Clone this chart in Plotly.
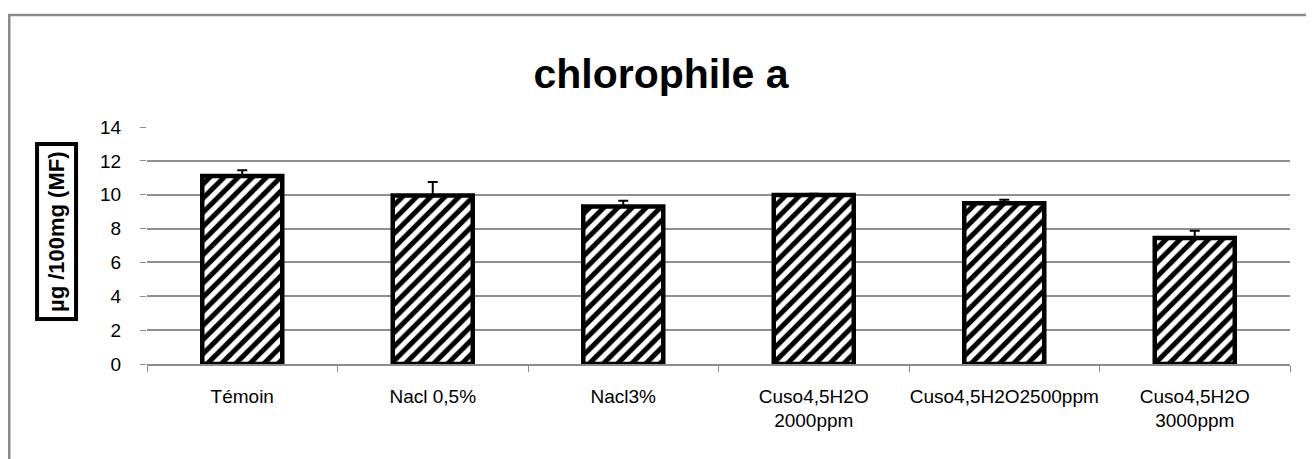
import plotly.graph_objects as go

# data
categories = ["Témoin", "Nacl 0,5%", "Nacl3%", "Cuso4,5H2O<br>2000ppm",
              "Cuso4,5H2O2500ppm", "Cuso4,5H2O<br>3000ppm"]
values = [11.1, 9.95, 9.3, 9.98, 9.5, 7.45]
errors = [0.35, 0.8, 0.35, 0.08, 0.2, 0.42]
no_errors = [0, 0, 0, 0, 0, 0]
y_ticks = [0, 2, 4, 6, 8, 10, 12, 14]

fig = go.Figure()

fig.add_trace(go.Bar(
    x=categories,
    y=values,
    width=0.42,
    marker=dict(
        color="white",
        line=dict(color="black", width=4.5),
        pattern=dict(shape="/", fgcolor="black", bgcolor="white",
                     fgopacity=1, size=10, solidity=0.5),
    ),
    # only the plus side is drawn in the original
    error_y=dict(type="data", symmetric=False, array=errors,
                 arrayminus=no_errors, visible=True,
                 color="black", thickness=2, width=5),
))

# the page has an 8px body margin, so the figure is trimmed to fit the window
fig.update_layout(
    width=1306, height=451,
    margin=dict(l=139, r=24, t=119, b=95),
    paper_bgcolor="white", plot_bgcolor="white",
    font=dict(family="Liberation Sans, Arial, sans-serif", color="black"),
    showlegend=False,
    title=dict(text="<b>chlorophile a</b>", x=0.5, xanchor="center",
               y=0.855, yanchor="middle",
               font=dict(size=41, color="black")),
)

fig.update_xaxes(
    tickson="boundaries", ticks="outside", ticklen=6, tickcolor="#8c8c8c",
    showline=True, linecolor="#8c8c8c", linewidth=1.5,
    tickfont=dict(size=19), tickangle=0, ticklabelstandoff=14,
)
fig.update_yaxes(
    range=[0, 14], tickvals=y_ticks, ticks="outside", ticklen=6,
    tickcolor="#8c8c8c", showline=False,
    showgrid=True, gridcolor="#8f8f8f", gridwidth=1.5,
    tickfont=dict(size=19), zeroline=False, ticklabelstandoff=15,
)

# boxed y-axis title
fig.add_annotation(
    text="<b>µg /100mg (MF)</b>", textangle=-90,
    xref="paper", yref="paper", x=-0.0787, y=0.557,
    xanchor="center", yanchor="middle", showarrow=False,
    font=dict(size=22, color="black"),
    bordercolor="black", borderwidth=4, borderpad=5, bgcolor="white",
)

# gray frame of the chart area (left and top edges visible)
fig.add_shape(type="rect", xref="paper", yref="paper",
              x0=-0.1205, x1=1.1, y0=-0.5, y1=1.4726,
              line=dict(color="#8a8a8a", width=2.5), layer="below")

fig.write_html("out.html")
